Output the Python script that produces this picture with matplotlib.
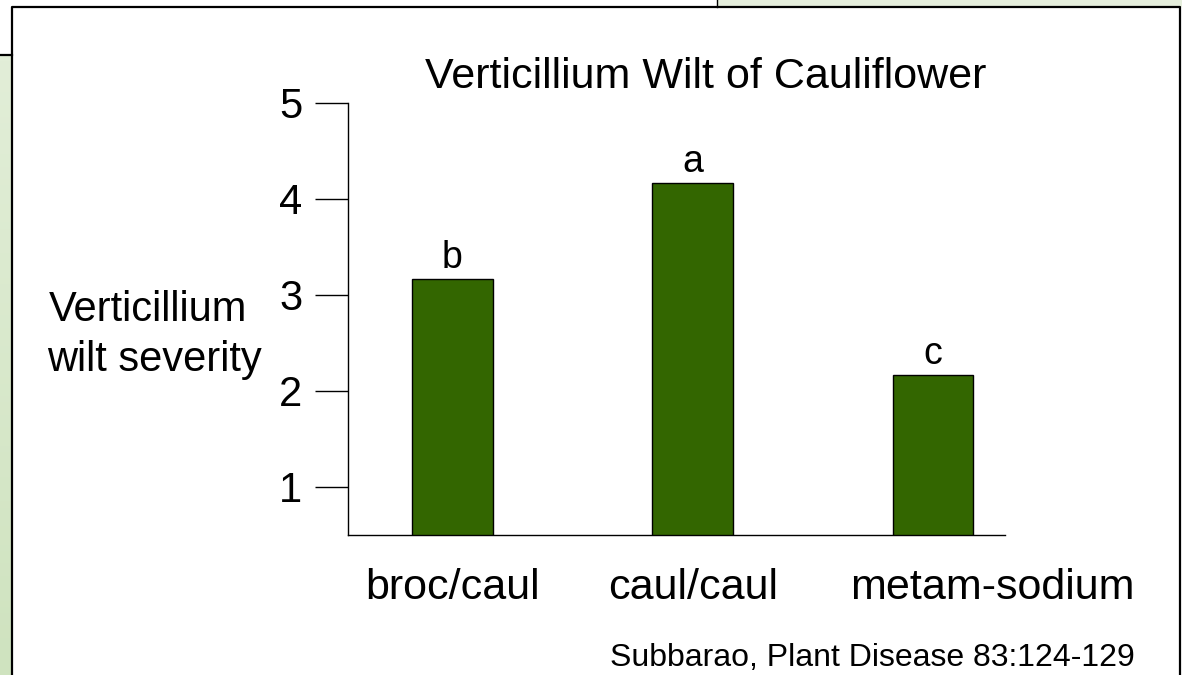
import numpy as np
import matplotlib.pyplot as plt
from matplotlib.patches import Rectangle
from matplotlib.lines import Line2D
from matplotlib.transforms import ScaledTranslation

plt.rcParams['font.family'] = ['Liberation Sans', 'DejaVu Sans']

# data
treatments = ['broc/caul', 'caul/caul', 'metam-sodium']
severity = [3.17, 4.17, 2.17]
groups = ['b', 'a', 'c']
yticks = [1, 2, 3, 4, 5]

W, H = 1182, 675
fig = plt.figure(figsize=(W / 100, H / 100), dpi=100)


def fx(px):
    return px / W


def fy(py):
    return 1 - py / H


# slide decorations (background panels + frame)
fig.add_artist(Rectangle((fx(717), fy(7)), fx(W - 717), 7 / H, transform=fig.transFigure,
                         facecolor='#e5eedc', edgecolor='none', zorder=0))
grad_ax = fig.add_axes([0, 0, fx(12), (H - 55) / H])
grad = np.linspace(0, 1, 100).reshape(-1, 1)
c_top = np.array([0xe2, 0xee, 0xd8]) / 255
c_bot = np.array([0xcf, 0xe3, 0xbf]) / 255
img = c_top[None, None, :] * (1 - grad[:, :, None]) + c_bot[None, None, :] * grad[:, :, None]
grad_ax.imshow(img, aspect='auto', extent=[0, 1, 1, 0])
grad_ax.axis('off')

lw = 1.6
fig.add_artist(Line2D([0, fx(12)], [fy(55), fy(55)], color='black', lw=lw))
fig.add_artist(Line2D([fx(717), fx(717)], [1, fy(7)], color='black', lw=1.0))
fig.add_artist(Line2D([fx(12), fx(12), fx(1180), fx(1180)], [0, fy(7), fy(7), 0],
                      color='black', lw=lw))

# chart
ax = fig.add_axes([fx(348), fy(535), fx(1005 - 348), (535 - 103) / H])
x = np.arange(len(treatments))
ax.bar(x, severity, width=0.335, bottom=0, color='#336600', edgecolor='black', linewidth=1.0)
ax.set_xlim(-0.435, 2.30)
ax.set_ylim(0.5, 5)
ax.set_yticks(yticks)
ax.set_yticklabels([str(t) for t in yticks], fontsize=30)
ax.tick_params(axis='y', length=24, width=1.0, pad=9)
ax.set_xticks(x)
ax.set_xticklabels(treatments, fontsize=31)
ax.tick_params(axis='x', length=0, pad=24)
# last category label sits further right on the slide
lab = ax.get_xticklabels()[-1]
lab.set_transform(lab.get_transform() + ScaledTranslation(0.59, 0, fig.dpi_scale_trans))
for side in ['top', 'right']:
    ax.spines[side].set_visible(False)
for side in ['left', 'bottom']:
    ax.spines[side].set_linewidth(1.0)
ax.patch.set_alpha(0)

for xi, v, g in zip(x, severity, groups):
    ax.annotate(g, (xi, v), xytext=(0, 8), textcoords='offset points',
                ha='center', va='baseline', fontsize=27)

fig.text(fx(706), fy(88), 'Verticillium Wilt of Cauliflower', fontsize=31,
         ha='center', va='baseline')
fig.text(fx(49), fy(321), 'Verticillium', fontsize=30, ha='left', va='baseline')
fig.text(fx(47), fy(371), 'wilt severity', fontsize=30, ha='left', va='baseline')
fig.text(fx(1135), fy(666), 'Subbarao, Plant Disease 83:124-129', fontsize=23,
         ha='right', va='baseline')

fig.savefig('out.png', dpi=100, facecolor='white')
